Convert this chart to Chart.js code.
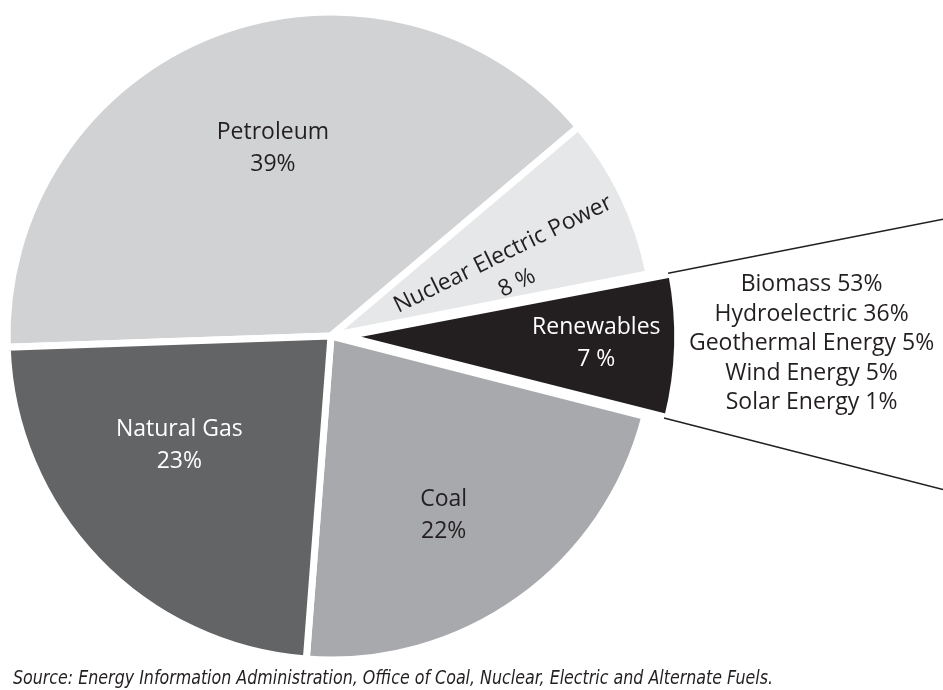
<!DOCTYPE html>
<html>
<head>
<meta charset="utf-8">
<script src="https://cdn.jsdelivr.net/npm/chart.js@4.4.1/dist/chart.umd.min.js"></script>
<style>
  html, body { margin: 0; padding: 0; background: #fff; }
  #wrap { width: 943px; height: 690px; position: relative; }
</style>
</head>
<body>
<div id="wrap"><canvas id="energy-pie"></canvas></div>
<script>
const sources = ['Petroleum', 'Nuclear Electric Power', 'Renewables', 'Coal', 'Natural Gas']
const shares = [39, 8, 7, 22, 23]
const sliceColors = ['#d1d2d4', '#e6e7e8', '#231f20', '#a7a9ac', '#636466']
const labelColors = ['#231f20', '#231f20', '#ffffff', '#231f20', '#ffffff']

const renewableSources = ['Biomass', 'Hydroelectric', 'Geothermal Energy', 'Wind Energy', 'Solar Energy']
const renewableShares = [53, 36, 5, 5, 1]

const sourceNote = 'Source: Energy Information Administration, Office of Coal, Nuclear, Electric and Alternate Fuels.'

// where the label sits: fraction of radius and a small angle nudge (deg)
const labelRadius = [0.61, 0.59, 0.755, 0.65, 0.575]
const labelNudge = [4, 4.6, -0.4, 3.3, 8.3]
const explode = [0, 0, 58, 0, 0]
const BORDER = 7
const FONT = '"Open Sans", "Noto Sans", sans-serif'

function pct(v) {
    return v < 10 ? v + ' %' : v + '%'
}

// where chart.js actually paints an arc (offset is applied as offset/4 in v4)
function arcGeometry(arc, i) {
    const p = arc.getProps(['x', 'y', 'startAngle', 'endAngle', 'outerRadius', 'circumference'], true)
    const off = explode[i] / 4
    const mid = (p.startAngle + p.endAngle) / 2
    const fix = 1 - Math.sin(Math.min(Math.PI, p.circumference))
    return {
        cx: p.x + Math.cos(mid) * off,
        cy: p.y + Math.sin(mid) * off,
        r: p.outerRadius + off * fix,
        mid: mid,
        start: p.startAngle,
        end: p.endAngle
    }
}

const sliceLabels = {
    id: 'sliceLabels',
    afterDatasetsDraw(chart) {
        const ctx = chart.ctx
        const arcs = chart.getDatasetMeta(0).data
        ctx.save()
        ctx.font = '23px ' + FONT
        ctx.textAlign = 'center'
        ctx.textBaseline = 'alphabetic'
        arcs.forEach((arc, i) => {
            const g = arcGeometry(arc, i)
            const a = g.mid + labelNudge[i] * Math.PI / 180
            const lx = g.cx + Math.cos(a) * g.r * labelRadius[i]
            const ly = g.cy + Math.sin(a) * g.r * labelRadius[i]
            ctx.save()
            ctx.translate(lx, ly)
            // the nuclear label runs along the slice
            if (i === 1) ctx.rotate(g.mid - 0.5 * Math.PI / 180)
            ctx.fillStyle = labelColors[i]
            ctx.fillText(sources[i], 0, -8)
            ctx.fillText(pct(shares[i]), 0, 24)
            ctx.restore()
        })
        ctx.restore()
    }
}

const renewablesBreakout = {
    id: 'renewablesBreakout',
    afterDatasetsDraw(chart) {
        const ctx = chart.ctx
        const idx = sources.indexOf('Renewables')
        const g = arcGeometry(chart.getDatasetMeta(0).data[idx], idx)
        const right = chart.width
        const rr = g.r - BORDER / 2

        ctx.save()
        ctx.strokeStyle = '#231f20'
        ctx.lineWidth = 1.5
        ;[g.start, g.end].forEach(ang => {
            const x0 = g.cx + Math.cos(ang) * rr
            const y0 = g.cy + Math.sin(ang) * rr
            ctx.beginPath()
            ctx.moveTo(x0, y0)
            ctx.lineTo(right, y0 + Math.tan(ang) * (right - x0))
            ctx.stroke()
        })

        const edgeX = g.cx + Math.cos(g.mid) * rr
        const tx = (edgeX + right) / 2 + 3
        const ty = g.cy + 6
        ctx.font = '23px ' + FONT
        ctx.fillStyle = '#231f20'
        ctx.textAlign = 'center'
        ctx.textBaseline = 'alphabetic'
        renewableSources.forEach((name, k) => {
            ctx.fillText(name + ' ' + renewableShares[k] + '%', tx, ty + (k - 2) * 29.5 + 8)
        })

        ctx.font = 'italic 19px "Liberation Sans Narrow", "DejaVu Sans Condensed", sans-serif'
        ctx.textAlign = 'left'
        ctx.fillStyle = '#231f20'
        ctx.fillText(sourceNote, 13, 684, 760)
        ctx.restore()
    }
}

new Chart(document.getElementById('energy-pie'), {
    type: 'pie',
    data: {
        labels: sources,
        datasets: [{
            data: shares,
            backgroundColor: sliceColors,
            borderColor: '#ffffff',
            borderWidth: BORDER,
            offset: explode
        }]
    },
    options: {
        responsive: true,
        maintainAspectRatio: false,
        animation: false,
        rotation: 268,
        radius: 324,
        layout: {
            padding: { left: 0, right: 281, top: 0, bottom: 18 }
        },
        plugins: {
            legend: { display: false },
            tooltip: { enabled: false }
        }
    },
    plugins: [sliceLabels, renewablesBreakout]
})
</script>
</body>
</html>
